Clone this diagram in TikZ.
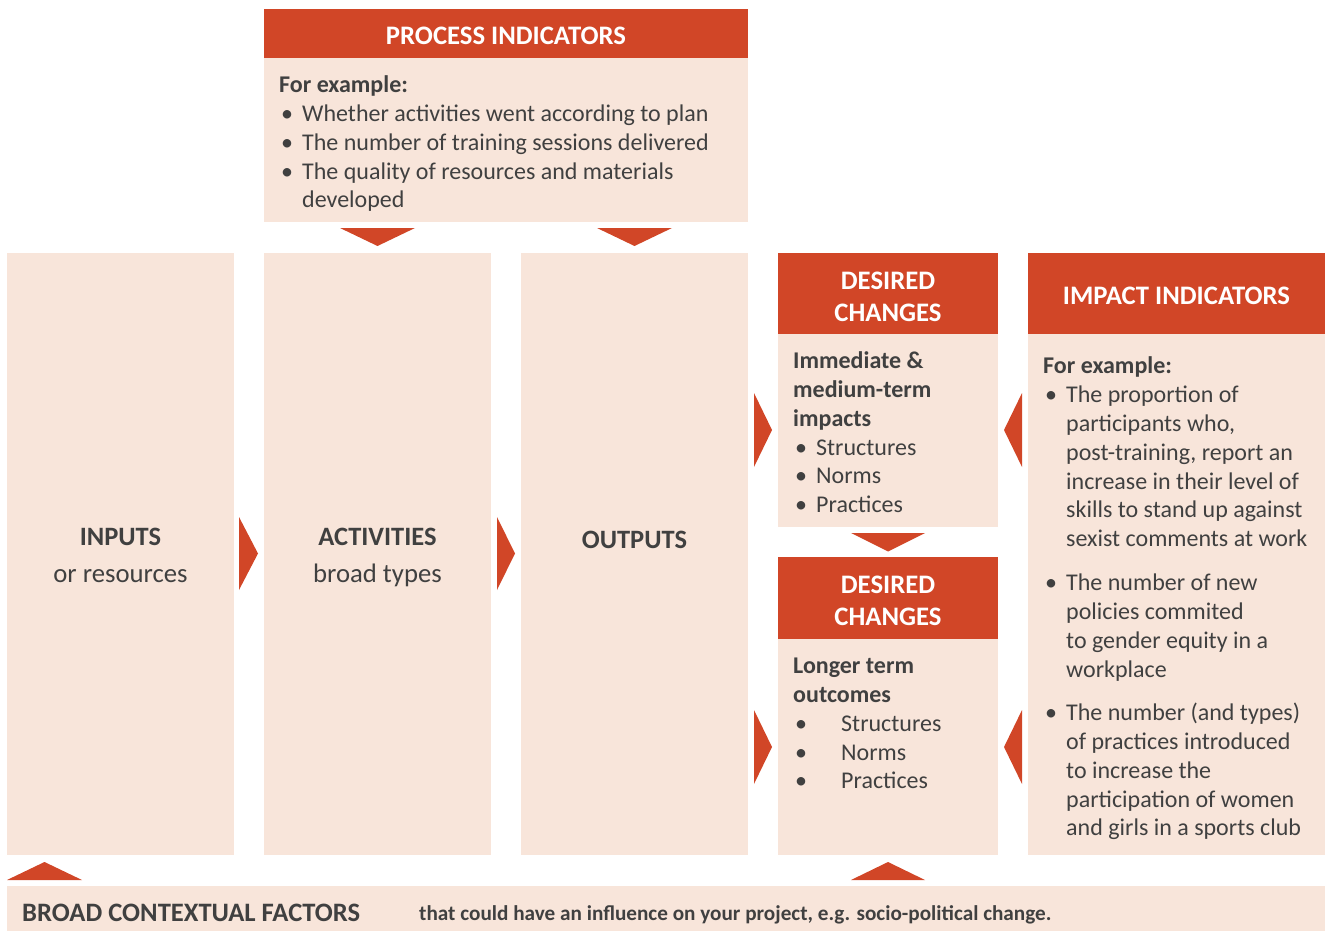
\documentclass[tikz,border=0pt]{standalone}
\usepackage{fontspec}
\setmainfont{Carlito}
\definecolor{hdr}{RGB}{209,70,39}
\definecolor{pale}{RGB}{248,229,218}
\definecolor{ink}{RGB}{64,64,64}
\newcommand{\itm}{\makebox[23pt][l]{\hspace{2pt}•}}
\newcommand{\itmw}{\makebox[48pt][l]{\hspace{2pt}•}}
\newcommand{\cnt}{\hspace*{23pt}}
\tikzset{
  hdrbox/.style={fill=hdr},
  palebox/.style={fill=pale},
  tri/.style={fill=hdr},
  hdrtext/.style={text=white, font=\fontsize{26.7}{32}\selectfont\bfseries, align=center, inner sep=0},
  bodytext/.style={text=ink, font=\fontsize{24}{28.75}\selectfont, align=left, inner sep=0, anchor=north west},
  coltitle/.style={text=ink, font=\fontsize{26.5}{32}\selectfont\bfseries, inner sep=0, anchor=base},
  colsub/.style={text=ink, font=\fontsize{26.7}{32}\selectfont, inner sep=0, anchor=base},
}
\begin{document}
\begin{tikzpicture}[x=1pt,y=-1pt]
\useasboundingbox (0,0) rectangle (1325,931);
% process indicators
\fill[hdrbox] (264,9) rectangle (748,58);
\fill[palebox] (264,58) rectangle (748,222);
\node[hdrtext] (ph) at (506,35.5) {PROCESS INDICATORS};
\node[bodytext] (pb) at (279,72.6) {\strut\textbf{For example:}\\
\strut\itm Whether activities went according to plan\\
\strut\itm The number of training sessions delivered\\
\strut\itm The quality of resources and materials\\
\strut\cnt developed};
\fill[tri] (340,228) -- (415,228) -- (377.5,246) -- cycle;
\fill[tri] (597,228) -- (672,228) -- (634.5,246) -- cycle;
% columns
\fill[palebox] (7,253) rectangle (234,855);
\fill[palebox] (264,253) rectangle (491,855);
\fill[palebox] (521,253) rectangle (748,855);
\node[coltitle] (inp) at (120.5,545.5) {INPUTS};
\node[colsub] (inps) at (120.5,582.5) {or resources};
\node[coltitle] (act) at (377.5,545.5) {ACTIVITIES};
\node[colsub] (acts) at (377.5,582.5) {broad types};
\node[coltitle] (out) at (634.5,548.5) {OUTPUTS};
\fill[tri] (239,517) -- (258,553.5) -- (239,590) -- cycle;
\fill[tri] (497,517) -- (515,553.5) -- (497,590) -- cycle;
% desired changes 1
\fill[hdrbox] (778,253) rectangle (998,334);
\fill[palebox] (778,334) rectangle (998,527);
\node[hdrtext] (d1h) at (888,296.5) {DESIRED\\CHANGES};
\node[bodytext] (d1b) at (793,348.6) {\strut\textbf{Immediate \&}\\
\strut\textbf{medium-term}\\
\strut\textbf{impacts}\\
\strut\itm Structures\\
\strut\itm Norms\\
\strut\itm Practices};
\fill[tri] (851,533) -- (925,533) -- (888,551.5) -- cycle;
% desired changes 2
\fill[hdrbox] (778,557) rectangle (998,639);
\fill[palebox] (778,639) rectangle (998,855);
\node[hdrtext] (d2h) at (888,601) {DESIRED\\CHANGES};
\node[bodytext] (d2b) at (793,653.6) {\strut\textbf{Longer term}\\
\strut\textbf{outcomes}\\
\strut\itmw Structures\\
\strut\itmw Norms\\
\strut\itmw Practices};
\fill[tri] (754,393) -- (772,430) -- (754,467) -- cycle;
\fill[tri] (754,710) -- (772,747) -- (754,784) -- cycle;
\fill[tri] (1022,393) -- (1004,430) -- (1022,467) -- cycle;
\fill[tri] (1022,710) -- (1004,747) -- (1022,784) -- cycle;
% impact indicators
\fill[hdrbox] (1028,253) rectangle (1325,334);
\fill[palebox] (1028,334) rectangle (1325,855);
\node[hdrtext] (ih) at (1176.5,295.5) {IMPACT INDICATORS};
\node[bodytext] (ib0) at (1043,353.6) {\strut\textbf{For example:}};
\node[bodytext] (ib1) at (1043,382.6) {\strut\itm The proportion of\\
\strut\cnt participants who,\\
\strut\cnt post-training, report an\\
\strut\cnt increase in their level of\\
\strut\cnt skills to stand up against\\
\strut\cnt sexist comments at work};
\node[bodytext] (ib2) at (1043,570.6) {\strut\itm The number of new\\
\strut\cnt policies commited\\
\strut\cnt to gender equity in a\\
\strut\cnt workplace};
\node[bodytext] (ib3) at (1043,700.6) {\strut\itm The number (and types)\\
\strut\cnt of practices introduced\\
\strut\cnt to increase the\\
\strut\cnt participation of women\\
\strut\cnt and girls in a sports club};
% bottom
\fill[tri] (7,880) -- (82,880) -- (44.5,862) -- cycle;
\fill[tri] (851,880) -- (925,880) -- (888,862) -- cycle;
\fill[palebox] (7,886) rectangle (1325,931);
\node[text=ink, font=\fontsize{26.6}{30}\selectfont\bfseries, inner sep=0, anchor=base west] (bc) at (22,921) {BROAD CONTEXTUAL FACTORS};
\node[text=ink, font=\fontsize{21.2}{25}\selectfont\bfseries, inner sep=0, anchor=base west] (bct) at (419,920) {that could have an influence on your project, e.g. socio-political change.};
\end{tikzpicture}
\end{document}
